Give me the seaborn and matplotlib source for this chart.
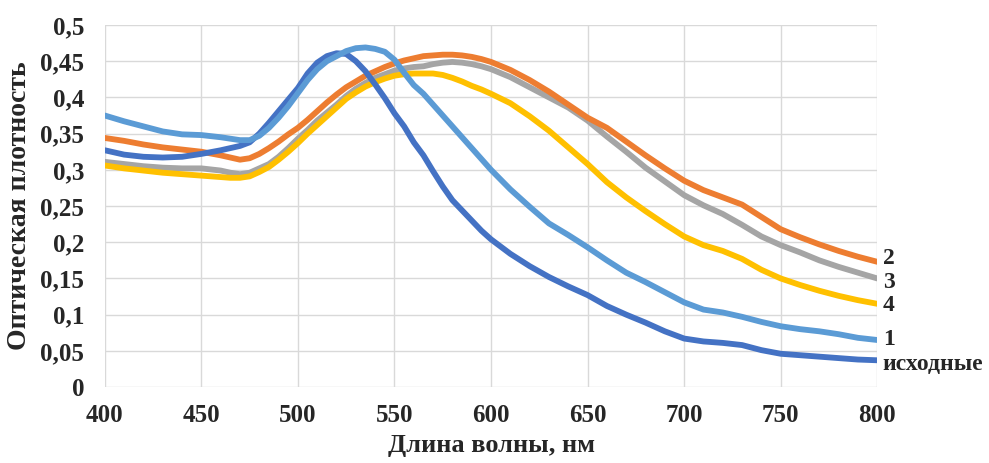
import numpy as np
import pandas as pd
import matplotlib
matplotlib.use("Agg")
import matplotlib.pyplot as plt
import seaborn as sns

wavelength = [400, 410, 420, 430, 440, 450, 460, 465, 470, 475, 480, 485, 490, 495, 500, 505,
              510, 515, 520, 525, 530, 535, 540, 545, 550, 555, 560, 565, 570, 575, 580, 585,
              590, 595, 600, 610, 620, 630, 640, 650, 660, 670, 680, 690, 700, 710, 720, 730,
              740, 750, 760, 770, 780, 790, 800]

ishodnye = [0.327, 0.321, 0.318, 0.317, 0.318, 0.322, 0.327, 0.330, 0.333, 0.338, 0.350, 0.365,
            0.381, 0.397, 0.413, 0.433, 0.448, 0.457, 0.461, 0.460, 0.450, 0.436, 0.418, 0.399,
            0.378, 0.360, 0.338, 0.320, 0.298, 0.277, 0.258, 0.244, 0.230, 0.216, 0.204, 0.184,
            0.167, 0.152, 0.139, 0.127, 0.112, 0.100, 0.089, 0.077, 0.067, 0.063, 0.061, 0.058,
            0.051, 0.046, 0.044, 0.042, 0.040, 0.038, 0.037]
s1 = [0.375, 0.367, 0.360, 0.353, 0.349, 0.348, 0.345, 0.343, 0.341, 0.341, 0.347, 0.358,
      0.372, 0.388, 0.406, 0.424, 0.439, 0.450, 0.457, 0.464, 0.468, 0.469, 0.467, 0.463,
      0.452, 0.434, 0.417, 0.405, 0.390, 0.375, 0.360, 0.345, 0.330, 0.315, 0.300, 0.273,
      0.249, 0.226, 0.210, 0.193, 0.175, 0.158, 0.145, 0.131, 0.117, 0.107, 0.103, 0.097,
      0.090, 0.084, 0.080, 0.077, 0.073, 0.068, 0.065]
s2 = [0.344, 0.340, 0.335, 0.331, 0.328, 0.325, 0.320, 0.317, 0.314, 0.316, 0.322, 0.330,
      0.339, 0.349, 0.358, 0.369, 0.381, 0.393, 0.404, 0.414, 0.422, 0.430, 0.436, 0.442,
      0.447, 0.451, 0.454, 0.457, 0.458, 0.459, 0.459, 0.458, 0.456, 0.453, 0.449, 0.438,
      0.424, 0.408, 0.390, 0.372, 0.358, 0.339, 0.320, 0.302, 0.285, 0.272, 0.262, 0.252,
      0.235, 0.218, 0.207, 0.197, 0.188, 0.180, 0.173]
s3 = [0.311, 0.308, 0.305, 0.303, 0.302, 0.302, 0.299, 0.296, 0.294, 0.296, 0.302, 0.308,
      0.318, 0.330, 0.343, 0.355, 0.368, 0.379, 0.390, 0.402, 0.412, 0.420, 0.427, 0.432,
      0.437, 0.440, 0.442, 0.443, 0.446, 0.448, 0.449, 0.448, 0.446, 0.443, 0.439, 0.428,
      0.414, 0.400, 0.386, 0.368, 0.346, 0.325, 0.303, 0.284, 0.265, 0.251, 0.239, 0.224,
      0.208, 0.196, 0.186, 0.175, 0.166, 0.158, 0.150]
s4 = [0.306, 0.302, 0.299, 0.296, 0.294, 0.292, 0.290, 0.289, 0.289, 0.291, 0.297, 0.304,
      0.314, 0.325, 0.337, 0.350, 0.362, 0.374, 0.386, 0.398, 0.407, 0.415, 0.421, 0.426,
      0.430, 0.432, 0.433, 0.433, 0.433, 0.431, 0.427, 0.422, 0.416, 0.411, 0.405, 0.392,
      0.374, 0.354, 0.331, 0.308, 0.283, 0.262, 0.243, 0.225, 0.208, 0.196, 0.188, 0.177,
      0.162, 0.150, 0.141, 0.133, 0.126, 0.120, 0.115]

series_names = ["3", "4", "2", "исходные", "1"]
series_values = [s3, s4, s2, ishodnye, s1]
series_colors = ["#A5A5A5", "#FFC000", "#ED7D31", "#4472C4", "#5B9BD5"]
label_offsets = {"2": 2.5, "3": -3, "4": -1, "1": 0, "исходные": -3}

x_ticks = [400, 450, 500, 550, 600, 650, 700, 750, 800]
y_ticks = [0, 0.05, 0.1, 0.15, 0.2, 0.25, 0.3, 0.35, 0.4, 0.45, 0.5]
y_tick_labels = ["0", "0,05", "0,1", "0,15", "0,2", "0,25", "0,3", "0,35", "0,4", "0,45", "0,5"]
x_label = "Длина волны, нм"
y_label = "Оптическая плотность"

frames = []
for name, vals in zip(series_names, series_values):
    frames.append(pd.DataFrame({"wl": wavelength, "od": vals, "series": name}))
df = pd.concat(frames, ignore_index=True)

sns.set_theme(style="white")
plt.rcParams["font.family"] = ["Liberation Serif", "DejaVu Serif"]

fig = plt.figure(figsize=(9.89, 4.63), dpi=100)
ax = fig.add_axes([0.106, 0.164, 0.781, 0.782])

sns.lineplot(data=df, x="wl", y="od", hue="series", hue_order=series_names,
             palette=dict(zip(series_names, series_colors)), linewidth=4.2,
             legend=False, ax=ax, solid_capstyle="round", solid_joinstyle="round")

ax.set_xlim(400, 800)
ax.set_ylim(0, 0.5)
ax.set_xticks(x_ticks)
ax.set_xticklabels([str(t) for t in x_ticks], fontsize=18, fontweight="bold")
ax.set_yticks(y_ticks)
ax.set_yticklabels(y_tick_labels, fontsize=18, fontweight="bold")
ax.tick_params(axis="both", length=0)
ax.tick_params(axis="y", pad=15)
ax.tick_params(axis="x", pad=12)
ax.grid(True, color="#D9D9D9", linewidth=1)
for sp in ax.spines.values():
    sp.set_visible(False)
ax.set_xlabel(x_label, fontsize=19, fontweight="bold", labelpad=5)
ax.set_ylabel(y_label, fontsize=20, fontweight="bold", labelpad=6)

for name, vals in zip(series_names, series_values):
    ax.annotate(name, xy=(wavelength[-1], vals[-1]), xytext=(4, label_offsets[name]),
                textcoords="offset points", fontsize=17, fontweight="bold",
                va="center", ha="left", annotation_clip=False)

fig.savefig("out.png", dpi=100)
